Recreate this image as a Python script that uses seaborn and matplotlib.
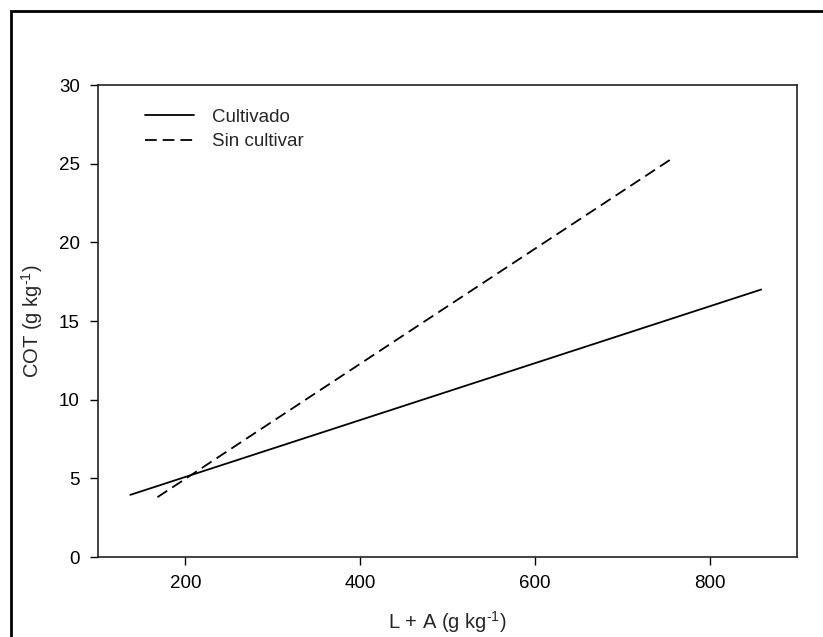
import matplotlib
matplotlib.use("Agg")
import matplotlib.pyplot as plt
import seaborn as sns
import pandas as pd
from matplotlib.patches import Rectangle

# Data (regression line endpoints)
cult_x = [137, 859]
cult_y = [3.95, 17.0]
sinc_x = [168, 759]
sinc_y = [3.8, 25.4]
series = ["Cultivado", "Sin cultivar"]
x_ticks = [200, 400, 600, 800]
y_ticks = [0, 5, 10, 15, 20, 25, 30]

df = pd.concat([
    pd.DataFrame({"x": cult_x, "y": cult_y, "serie": series[0]}),
    pd.DataFrame({"x": sinc_x, "y": sinc_y, "serie": series[1]}),
])

sns.set_theme(style="ticks")
plt.rcParams['font.family'] = ['Liberation Sans', 'DejaVu Sans']
plt.rcParams['mathtext.fontset'] = 'custom'
plt.rcParams['mathtext.rm'] = 'Liberation Sans'
plt.rcParams['mathtext.it'] = 'Liberation Sans'

fig = plt.figure(figsize=(8.23, 6.37), dpi=100)
W, H = 823, 637
ax = fig.add_axes([98 / W, 1 - 557 / H, (797 - 98) / W, (557 - 85) / H])

sns.lineplot(data=df, x="x", y="y", hue="serie", style="serie",
             palette=["black", "black"], dashes={series[0]: "", series[1]: (6.5, 3.3)},
             linewidth=1.3, ax=ax, legend=True)

ax.set_xlim(100, 900)
ax.set_ylim(0, 30)
ax.set_xticks(x_ticks)
ax.set_yticks(y_ticks)
ax.tick_params(direction="out", length=6, width=1, labelsize=13.5, colors="black", pad=7)
for s in ax.spines.values():
    s.set_visible(True)
    s.set_linewidth(1.2)
    s.set_color("#222222")

ax.set_xlabel(r"L + A (g kg$^{\text{-}1}$)", fontsize=14.5, labelpad=12)
ax.set_ylabel(r"COT (g kg$^{\text{-}1}$)", fontsize=14.5, labelpad=10)

leg = ax.legend(loc="upper left", frameon=False, fontsize=13.5, handlelength=2.6,
                bbox_to_anchor=(0.043, 0.986), labelspacing=0.4, handletextpad=1.0)

# outer frame (left and top edges visible)
fig.patches.append(Rectangle((11 / W, -0.1), 1.2, 1.1 - 11 / H, transform=fig.transFigure,
                             fill=False, edgecolor="black", linewidth=2))

fig.savefig("out.png", dpi=100)
